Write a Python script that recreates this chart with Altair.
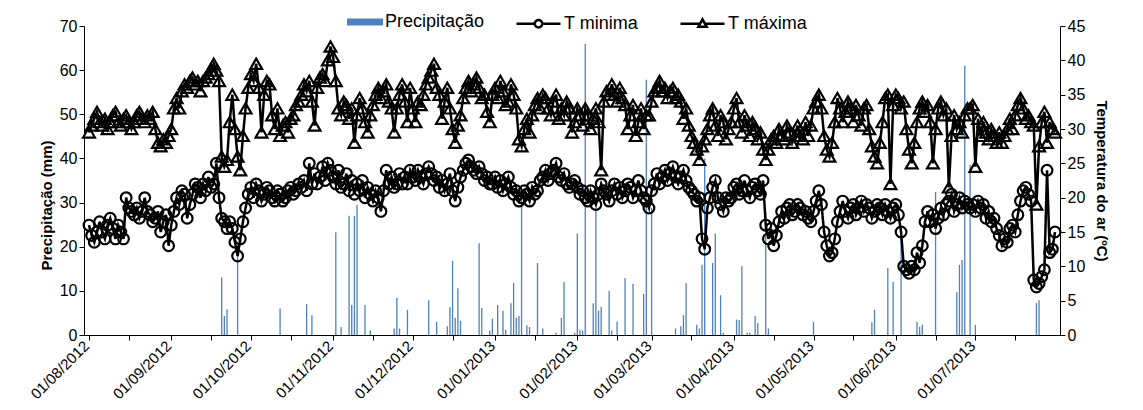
import altair as alt
import pandas as pd

START = "2012-08-01"

# Daily maximum temperature (ºC)
tmax_ago = [29.5, 30.5, 31.5, 32.5, 31, 30.5, 31.5, 30, 31, 32, 32.5, 31, 30.5, 31.5, 32, 31, 30, 31, 32, 32.5,
            31.5, 31, 32, 31.5, 32.5, 30, 28, 27.5, 28.5, 28, 29]
tmax_set = [30, 33, 34.5, 33, 35.5, 36.5, 36, 37, 37.5, 36.5, 37, 35.5, 37, 37.5, 38, 38.5, 39.5, 38.5, 37, 26,
            24.5, 25.5, 31, 35, 30, 26, 24, 29, 33, 36]
tmax_out = [38, 37, 39.5, 36, 29.5, 35, 37, 36.5, 32, 30, 33, 29, 30.5, 31, 29.5, 31.5, 32, 33.5, 34, 35,
            36.5, 35.5, 37, 34, 30.5, 36, 37.5, 38, 37, 40, 42]
tmax_nov = [40.5, 37, 33, 32, 34, 33.5, 31.5, 33, 28, 32, 34.5, 33, 31, 29.5, 32, 33.5, 35, 36, 34.5, 35.5,
            36.5, 34, 33, 29.5, 33, 35, 36.5, 34, 31, 36]
tmax_dez = [33, 31, 34, 33.5, 35, 36.5, 37.5, 38.5, 39.5, 36, 35, 31.5, 34, 36, 33, 30, 28, 30.5, 32, 34.5,
            36, 37, 35.5, 36.5, 37.5, 36, 34.5, 35, 32.5, 31]
tmax_jan = [35, 36, 34.5, 37, 35.5, 33.5, 34, 36.5, 35, 33, 28.5, 27.5, 30, 31.5, 29.5, 32, 33.5, 34.5, 33, 35,
            34.5, 33, 32, 34, 35, 31.5, 33, 32, 34, 33, 29.5]
tmax_fev = [31, 33, 32, 30.5, 33, 32, 30, 31.5, 33, 31, 24, 34, 35.5, 35, 36.5, 35, 34, 36, 34.5, 33.5,
            30, 32, 33.5, 29, 31, 33, 30, 32]
tmax_mar = [32, 34, 35.5, 36, 37, 35.5, 36, 34.5, 35.5, 36, 34.5, 35, 34, 31.5, 33, 30.5, 29, 28, 27, 25.5,
            27.5, 28.5, 30, 32, 33, 30.5, 29, 32, 31, 28.5, 30]
tmax_abr = [31, 33, 34.5, 31, 29.5, 32, 30.5, 29, 31, 30, 28.5, 29.5, 27, 25.5, 27, 28.5, 29, 28, 30, 29,
            28.5, 30.5, 29.5, 28, 29, 30.5, 29, 28.5, 31]
tmax_mai = [29, 30.5, 33, 34, 35, 33, 29, 27, 26, 28, 31, 34.5, 33, 31, 32.5, 34, 33, 31, 33.5, 32,
            30.5, 33, 33.5, 30, 27.5, 26, 25, 28, 31, 34.5, 35]
tmax_jun = [22, 33.5, 35, 34.5, 33, 34, 30, 27, 25, 28, 31, 33, 34, 32.5, 33.5, 31, 25, 30, 33, 34,
            32, 33, 21.5, 29, 32, 30, 31, 29.5, 32, 33]
tmax_jul = [33, 33.5, 24.5, 31.5, 29, 31, 29.5, 28.5, 30, 29, 28, 29.5, 28, 29, 30, 31.5, 30, 32, 33.5, 34.5,
            33, 31.5, 32, 31, 30.5, 19, 27.5, 31, 32.5, 28, 31, 30, 29.5]

# Daily minimum temperature (ºC)
tmin_ago = [16, 14.5, 13.5, 15, 16.5, 15, 14, 16, 17, 15.5, 14, 16, 15, 14, 20, 18.5, 18, 17.5, 18.5, 17,
            18, 20, 18, 17.5, 16.5, 17, 18, 15, 16.5, 17.5, 13]
tmin_set = [16, 18, 20, 19, 21, 20.5, 17, 19, 20.5, 22, 21.5, 20, 22, 21, 23, 21.5, 22, 25, 20, 17,
            16.5, 15.5, 16.5, 15.5, 13.5, 11.5, 14, 16.5, 18.5, 20.5]
tmin_out = [21.5, 20, 22, 21, 19.5, 20.5, 21.5, 21, 20, 19.5, 21, 20.5, 19.5, 20, 21, 21.5, 20.5, 21, 22, 21.5,
            22.5, 21, 25, 22, 23.5, 22, 23, 24.5, 22.5, 25, 24]
tmin_nov = [23, 22, 24, 21.5, 22, 23.5, 21, 22.5, 20.5, 22, 21, 22.5, 20, 21.5, 20.5, 19.5, 21, 20, 18, 21,
            24, 22, 23, 21.5, 22, 23.5, 22, 23, 22, 24]
tmin_dez = [23, 22.5, 24, 23, 22, 23.5, 24.5, 23.5, 22.5, 23, 21.5, 22.5, 21, 22, 23.5, 21, 19.5, 21.5, 23, 24,
            25, 25.5, 24.5, 24, 23.5, 24.5, 23.5, 22.5, 23, 22]
tmin_jan = [22, 23, 21.5, 22.5, 21, 22, 23, 21.5, 20.5, 21, 19.5, 20, 21, 20.5, 19.5, 21.5, 20.5, 21, 22.5, 23,
            24, 22.5, 23.5, 24, 25, 23, 22.5, 23.5, 22, 21.5, 22]
tmin_fev = [22.5, 21.5, 20.5, 21, 20, 19.5, 21, 20, 19, 20.5, 22, 21, 20.5, 19.5, 21, 22, 20.5, 21.5, 20, 21,
            22, 21.5, 20, 21, 22.5, 21, 20, 19.5]
tmin_mar = [18.5, 21, 22, 23.5, 22, 23, 24, 22.5, 23.5, 24.5, 23, 22, 23, 24, 22.5, 21.5, 21, 20.5, 19.5, 20,
            14, 12.5, 18.5, 20, 21.5, 22.5, 20, 19, 18, 20, 19.5]
tmin_abr = [20, 21.5, 22, 20.5, 21, 22.5, 21, 20, 21.5, 22, 21, 20.5, 22.5, 16, 14, 15.5, 13, 14.5, 16.5, 18,
            17, 18.5, 19, 17.5, 18, 19, 18.5, 17.5, 18]
tmin_mai = [17, 16.5, 18, 19.5, 21, 19, 15, 13, 11.5, 12, 14, 16.5, 18, 19.5, 18, 17, 18.5, 19, 17.5, 18.5,
            19.5, 18, 19, 18.5, 17, 18, 19, 18.5, 17.5, 19, 18]
tmin_jun = [17, 18.5, 19, 17.5, 15, 10, 9.5, 9, 10, 9.5, 12, 10.5, 13, 16.5, 18, 16.5, 17.5, 15.5, 17, 18.5,
            17.5, 19, 19.5, 20.5, 18, 19, 20, 18.5, 19.5, 19]
tmin_jul = [18.5, 19, 18, 19.5, 18.5, 19, 17, 18, 16.5, 17, 15.5, 14.5, 13, 14, 13.5, 15.5, 16, 15, 17.5, 19.5,
            21, 21.5, 20.5, 19.5, 8, 7, 7.5, 8.5, 9.5, 24, 12, 12.5, 15]

# Rain days (days after 01/08/2012) and daily precipitation (mm)
rain_day = [50, 51, 52, 56, 72, 82, 84, 93, 95, 98, 99, 100, 101, 104, 106, 115, 116, 117, 120, 128, 131,
            135, 136, 137, 138, 139, 140, 147, 148, 151, 152, 154, 156, 157, 159, 160, 161, 162, 163, 165, 166,
            169, 171, 176, 178, 179, 183, 184, 185, 186, 187, 190, 191, 192, 193, 196, 197, 199, 202, 205, 209,
            210, 212, 221, 223, 224, 225, 229, 230, 231, 232, 235, 236, 238, 239, 244, 245, 246, 248, 249, 251,
            252, 255, 256, 273, 295, 296, 301, 303, 306, 312, 313, 314, 319, 327, 328, 329, 330, 332, 334, 357, 358]
rain_mm = [13, 4.3, 5.8, 18.8, 6, 7, 4.5, 23.3, 1.8, 27, 6.8, 27, 29.5, 6.8, 1, 1.5, 8.4, 1.5, 5.7, 7.9, 3,
           2, 6.3, 16.8, 3.9, 10.6, 3.2, 20.8, 6.1, 1, 3.7, 6.8, 5.5, 1.2, 7.2, 11.8, 3.9, 4.3, 31.3, 2.2, 1.8,
           16.3, 1.5, 0.5, 3.9, 12, 0.5, 23, 1.2, 1, 66, 7.2, 28.8, 5.5, 6.4, 10, 1, 3, 12.9, 11.6, 9.3,
           57.8, 28.8, 1.5, 2, 4.5, 11.8, 2.3, 1.5, 15.9, 40, 16.3, 23, 9, 0.5, 3.5, 3.4, 15.6, 0.5, 0.5, 4.3,
           2.7, 27.9, 1.5, 2.9, 2.9, 5.7, 15.2, 12, 24.2, 3, 1.8, 2.3, 32.4, 9.7, 15.9, 17, 61, 38.5, 2.3, 7.2, 7.9]

SERIES = ["T minima", "T máxima"]
FONT = "Liberation Sans"

t_max = (tmax_ago + tmax_set + tmax_out + tmax_nov + tmax_dez + tmax_jan + tmax_fev + tmax_mar
         + tmax_abr + tmax_mai + tmax_jun + tmax_jul)
t_min = (tmin_ago + tmin_set + tmin_out + tmin_nov + tmin_dez + tmin_jan + tmin_fev + tmin_mar
         + tmin_abr + tmin_mai + tmin_jun + tmin_jul)

dates = pd.date_range(START, periods=len(t_max), freq="D")
temp = pd.DataFrame({"data": dates.strftime("%Y-%m-%dT00:00:00"), "T minima": t_min, "T máxima": t_max})
temp_long = temp.melt("data", var_name="serie", value_name="temp")

rain = pd.DataFrame({
    "data": (pd.Timestamp(START) + pd.to_timedelta(rain_day, unit="D")).strftime("%Y-%m-%dT00:00:00"),
    "mm": rain_mm,
    "serie": "Precipitação",
})

# x axis: ticks on the 1st and 16th of every month, labels on the 1st
tick_values = []
for y, m in [(2012, 8), (2012, 9), (2012, 10), (2012, 11), (2012, 12), (2013, 1), (2013, 2),
             (2013, 3), (2013, 4), (2013, 5), (2013, 6), (2013, 7)]:
    tick_values.append(alt.DateTime(year=y, month=m, date=1))
    tick_values.append(alt.DateTime(year=y, month=m, date=16))

x_enc = alt.X(
    "data:T",
    scale=alt.Scale(domain=[alt.DateTime(year=2012, month=8, date=1), alt.DateTime(year=2013, month=7, date=31)]),
    axis=alt.Axis(
        title=None, values=tick_values, grid=False,
        labelExpr="date(datum.value) == 1 ? timeFormat(datum.value, '%d/%m/%Y') : ''",
        labelAngle=-45, labelFontSize=15, labelFont=FONT, labelColor="black",
        labelAlign="right", labelBaseline="middle", labelOffset=-3,
        domainColor="black", tickColor="black", tickSize=5, labelPadding=3,
    ),
)

bars = alt.Chart(rain).mark_bar(width=1.3).encode(
    x=x_enc,
    y=alt.Y("mm:Q", scale=alt.Scale(domain=[0, 70], nice=False),
            axis=alt.Axis(title="Precipitação (mm)", values=list(range(0, 71, 10)), grid=False,
                          labelFontSize=16, labelFont=FONT, labelColor="black",
                          titleFontSize=15, titleFont=FONT, titleFontWeight="bold", titleColor="black",
                          titleY=179, domainColor="black", tickColor="black", titlePadding=5)),
    color=alt.Color("serie:N", scale=alt.Scale(domain=["Precipitação"], range=["#4F81BD"]),
                    legend=alt.Legend(title=None, orient="none", legendX=263, legendY=-22,
                                      direction="horizontal", symbolType="M-1,-0.2H1V0.2H-1Z",
                                      symbolSize=1296, symbolStrokeWidth=0, labelFontSize=18,
                                      labelFont=FONT, labelColor="black", labelOffset=2, padding=0)),
)

y_right = alt.Y("temp:Q", scale=alt.Scale(domain=[0, 45], nice=False),
                axis=alt.Axis(title="Temperatura do ar (ºC)", orient="right", values=list(range(0, 46, 5)),
                              grid=False, labelFontSize=16, labelFont=FONT, labelColor="black",
                              titleFontSize=15, titleFont=FONT, titleFontWeight="bold", titleColor="black",
                              domainColor="black", tickColor="black", titlePadding=9))

lines = alt.Chart(temp_long).mark_line(color="black", strokeWidth=2.5).encode(
    x=x_enc, y=y_right, detail="serie:N")

pts_min = alt.Chart(temp_long).transform_filter(alt.datum.serie == "T minima").mark_point(
    shape="circle", filled=False, color="black", strokeWidth=2.2, size=115, opacity=1
).encode(x=x_enc, y=y_right)

pts_max = alt.Chart(temp_long).transform_filter(alt.datum.serie == "T máxima").mark_point(
    shape="triangle-up", filled=False, color="black", strokeWidth=2.2, size=140, opacity=1
).encode(x=x_enc, y=y_right)

leg_circle = ("M-1,0H-0.17M0.17,0H1M0.17,0A0.17,0.17,0,1,1,-0.17,0A0.17,0.17,0,1,1,0.17,0")
leg_tri = ("M-1,0H-0.14M0.14,0H1M0,-0.2L0.19,0.14L-0.19,0.14Z")

legend_layer = alt.Chart(temp_long).transform_filter("false").mark_point(
    filled=False, color="black", strokeWidth=2.5, opacity=1
).encode(
    shape=alt.Shape("serie:N", scale=alt.Scale(domain=SERIES, range=[leg_circle, leg_tri]),
                    legend=alt.Legend(title=None, orient="none", legendX=431, legendY=-26,
                                      direction="horizontal", symbolSize=1936, symbolStrokeWidth=2.5,
                                      symbolStrokeColor="black", symbolFillColor="transparent",
                                      labelFontSize=18, labelFont=FONT, labelColor="black",
                                      labelOffset=2, columnPadding=36, padding=0))
)

temps = alt.layer(lines, pts_min, pts_max, legend_layer).resolve_scale(shape="independent")

chart = alt.layer(bars, temps).resolve_scale(y="independent").properties(
    width=976, height=309,
    autosize=alt.AutoSizeParams(type="none"),
    padding={"left": 76, "top": 18, "right": 75, "bottom": 67},
).configure_view(stroke=None)

chart.save("out.html", embed_options={"renderer": "svg", "actions": False})
